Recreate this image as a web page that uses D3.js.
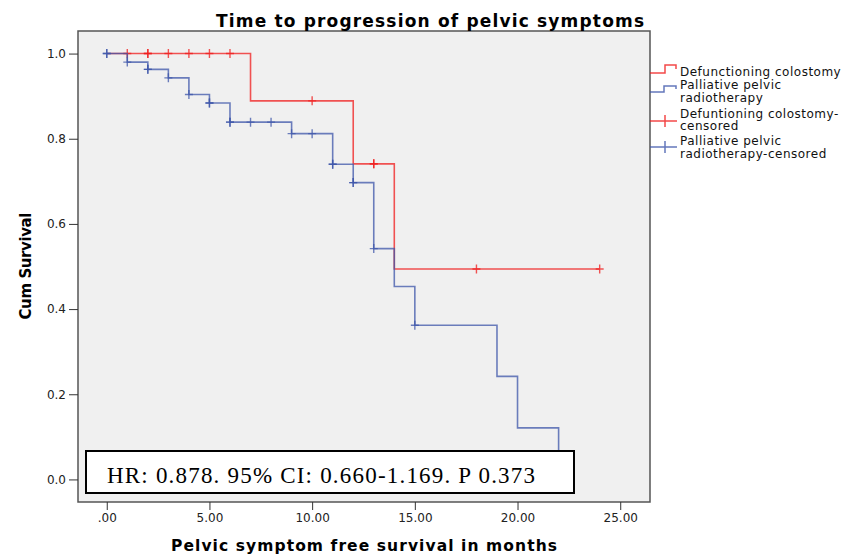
<!DOCTYPE html>
<html>
<head>
<meta charset="utf-8">
<script src="https://cdn.jsdelivr.net/npm/d3@7"></script>
<style>
  body { margin: 0; background: #fff; }
  svg { display: block; }
  .tick text { font-family: "DejaVu Sans", sans-serif; font-size: 12px; fill: #222; }
  .tick line { stroke: #333; }
</style>
</head>
<body>
<div id="chart"></div>
<script>
// Kaplan-Meier curves
// Defunctioning colostomy: step times and survival after each step
const colostomyTimes = [0, 7, 12, 14, 24];
const colostomySurv = [1.0, 0.889, 0.741, 0.494, 0.494];
const colostomyCensored = [1, 2, 2, 3, 4, 5, 6, 10, 13, 13, 18, 24];

// Palliative pelvic radiotherapy
const radioTimes = [0, 1, 2, 3, 4, 5, 6, 9, 11, 12, 13, 14, 15, 19, 20, 22];
const radioSurv = [1.0, 0.980, 0.963, 0.943, 0.904, 0.884, 0.839, 0.812, 0.740, 0.697, 0.542, 0.453, 0.362, 0.242, 0.121, 0.0];
const radioCensored = [0, 0, 1, 2, 2, 3, 4, 5, 5, 6, 6, 7, 8, 9, 10, 11, 11, 12, 12, 13, 15];

const xTicks = [0, 5, 10, 15, 20, 25];
const xTickLabels = [".00", "5.00", "10.00", "15.00", "20.00", "25.00"];
const yTicks = [0, 0.2, 0.4, 0.6, 0.8, 1.0];
const yTickLabels = ["0.0", "0.2", "0.4", "0.6", "0.8", "1.0"];

const legendLabels = [
    ["Defunctioning colostomy"],
    ["Palliative pelvic", "radiotherapy"],
    ["Defuntioning colostomy-", "censored"],
    ["Palliative pelvic", "radiotherapy-censored"]
];

const titleText = "Time to progression of pelvic symptoms";
const xTitle = "Pelvic symptom free survival in months";
const yTitle = "Cum Survival";
const hrText = "HR: 0.878. 95% CI: 0.660-1.169. P 0.373";

const W = 845, H = 556;
const frame = { left: 78, right: 650, top: 31, bottom: 502 };
const RED = "#f01c1c", BLUE = "#3d55aa";

const svg = d3.select("#chart").append("svg")
    .attr("width", W)
    .attr("height", H);

const x = d3.scaleLinear().domain([-1.4, 26.45]).range([frame.left, frame.right]);
const y = d3.scaleLinear().domain([-0.053, 1.053]).range([frame.bottom, frame.top]);

// plot background + frame
svg.append("rect")
    .attr("x", frame.left)
    .attr("y", frame.top)
    .attr("width", frame.right - frame.left)
    .attr("height", frame.bottom - frame.top)
    .attr("fill", "#f0f0f0")
    .attr("stroke", "#555")
    .attr("stroke-width", 1.5);

// axes
const xAxis = d3.axisBottom(x)
    .tickValues(xTicks)
    .tickSize(8)
    .tickPadding(3)
    .tickFormat(function(d, i) { return xTickLabels[i]; });
const yAxis = d3.axisLeft(y)
    .tickValues(yTicks)
    .tickSize(9)
    .tickPadding(3)
    .tickFormat(function(d, i) { return yTickLabels[i]; });

svg.append("g")
    .attr("transform", "translate(0," + frame.bottom + ")")
    .call(xAxis)
    .call(function(g) { g.select(".domain").remove(); });
svg.append("g")
    .attr("transform", "translate(" + frame.left + ",0)")
    .call(yAxis)
    .call(function(g) { g.select(".domain").remove(); });

const stepLine = d3.line()
    .x(function(d) { return x(d.t); })
    .y(function(d) { return y(d.s); })
    .curve(d3.curveStepAfter);

function survAt(times, surv, t) {
    var s = surv[0];
    for (var i = 0; i < times.length; i++) {
        if (times[i] <= t) s = surv[i];
    }
    return s;
}

function drawCurve(times, surv, censored, color) {
    var pts = times.map(function(t, i) { return { t: t, s: surv[i] }; });
    var g = svg.append("g").attr("stroke", color).attr("fill", "none").attr("stroke-opacity", 0.75);
    g.append("path")
        .attr("d", stepLine(pts))
        .attr("stroke-width", 1.6);
    g.selectAll("path.cens")
        .data(censored)
        .enter()
        .append("path")
        .attr("class", "cens")
        .attr("stroke-width", 1.4)
        .attr("d", function(t) {
            var cx = x(t), cy = y(survAt(times, surv, t));
            return "M" + (cx - 4) + "," + cy + "H" + (cx + 4) + "M" + cx + "," + (cy - 4.5) + "V" + (cy + 4.5);
        });
}

drawCurve(colostomyTimes, colostomySurv, colostomyCensored, RED);
drawCurve(radioTimes, radioSurv, radioCensored, BLUE);

// HR annotation box
svg.append("rect")
    .attr("x", 86)
    .attr("y", 451)
    .attr("width", 488)
    .attr("height", 42)
    .attr("fill", "#fff")
    .attr("stroke", "#000")
    .attr("stroke-width", 2);
svg.append("text")
    .attr("x", 107)
    .attr("y", 483)
    .attr("textLength", 428)
    .attr("lengthAdjust", "spacing")
    .style("font-family", "'Liberation Serif', 'Times New Roman', serif")
    .style("font-size", "23px")
    .text(hrText);

// titles
svg.append("text")
    .attr("x", 430)
    .attr("y", 26.5)
    .attr("text-anchor", "middle")
    .attr("textLength", 428)
    .attr("lengthAdjust", "spacing")
    .style("font-family", "'DejaVu Sans', sans-serif")
    .style("font-weight", "bold")
    .style("font-size", "17px")
    .text(titleText);

svg.append("text")
    .attr("x", 364)
    .attr("y", 551)
    .attr("text-anchor", "middle")
    .attr("textLength", 386)
    .attr("lengthAdjust", "spacing")
    .style("font-family", "'DejaVu Sans', sans-serif")
    .style("font-weight", "bold")
    .style("font-size", "15.5px")
    .text(xTitle);

svg.append("text")
    .attr("transform", "translate(31,266) rotate(-90)")
    .attr("text-anchor", "middle")
    .attr("textLength", 107)
    .attr("lengthAdjust", "spacing")
    .style("font-family", "'DejaVu Sans', sans-serif")
    .style("font-weight", "bold")
    .style("font-size", "15px")
    .text(yTitle);

// legend
const legend = svg.append("g").attr("fill", "none").attr("stroke-width", 1.5).attr("stroke-opacity", 0.8);
legend.append("path").attr("stroke", RED).attr("d", "M650,73H665V65H676V69");
legend.append("path").attr("stroke", BLUE).attr("d", "M650,92H664V86H676V89");
legend.append("path").attr("stroke", RED).attr("d", "M650,121H677M665,115V127");
legend.append("path").attr("stroke", BLUE).attr("d", "M650,147H677M665,141V153");

const legendBaselines = [[76], [89, 101.5], [117.5, 130], [145, 157.5]];
legendLabels.forEach(function(lines, i) {
    lines.forEach(function(line, j) {
        svg.append("text")
            .attr("x", 680)
            .attr("y", legendBaselines[i][j])
            .style("font-family", "'DejaVu Sans', sans-serif")
            .style("font-size", "12px")
            .style("letter-spacing", "0.5px")
            .attr("fill", "#111")
            .text(line);
    });
});
</script>
</body>
</html>
